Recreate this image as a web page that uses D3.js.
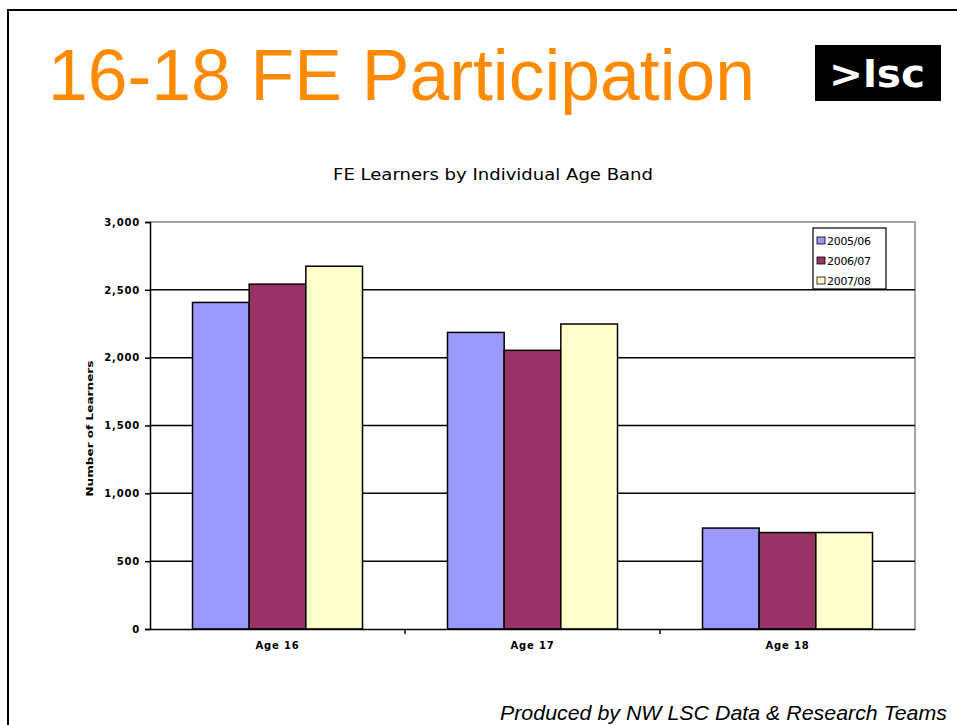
<!DOCTYPE html>
<html>
<head>
<meta charset="utf-8">
<script src="https://cdn.jsdelivr.net/npm/d3@7"></script>
<style>
  body { margin: 0; background: #fff; }
  svg { display: block; }
</style>
</head>
<body>
<div id="container"></div>
<script>
const WIDTH = 957,
  HEIGHT = 725;

// data
const categories = ["Age 16", "Age 17", "Age 18"];
const seriesNames = ["2005/06", "2006/07", "2007/08"];
const values2005 = [2407, 2186, 744];
const values2006 = [2542, 2054, 711];
const values2007 = [2674, 2248, 711];
const yTicks = [0, 500, 1000, 1500, 2000, 2500, 3000];

const seriesValues = [values2005, values2006, values2007];
const data = categories.map((c, i) => ({
  category: c,
  values: seriesNames.map((s, j) => ({ series: s, value: seriesValues[j][i] }))
}));

const plot = { left: 150, right: 915, top: 222, bottom: 629 };

const svg = d3.select("#container")
  .append("svg")
  .attr("width", WIDTH)
  .attr("height", HEIGHT)

// slide frame
svg.append("rect")
  .attr("x", 8).attr("y", 10)
  .attr("width", WIDTH + 10).attr("height", HEIGHT + 10)
  .attr("fill", "none")
  .attr("stroke", "#000")
  .attr("stroke-width", 2)

// heading
svg.append("text")
  .attr("x", 48).attr("y", 100)
  .attr("font-family", "Liberation Sans, Arial, sans-serif")
  .attr("font-size", 72)
  .attr("fill", "#ff8a00")
  .attr("textLength", 707)
  .attr("lengthAdjust", "spacingAndGlyphs")
  .text("16-18 FE Participation")

// logo
svg.append("rect")
  .attr("x", 815).attr("y", 45)
  .attr("width", 126).attr("height", 56)
  .attr("fill", "#000")
svg.append("text")
  .attr("x", 877).attr("y", 87)
  .attr("text-anchor", "middle")
  .attr("font-family", "DejaVu Sans, sans-serif")
  .attr("font-weight", "bold")
  .attr("font-size", 38)
  .attr("fill", "#fff")
  .attr("textLength", 96)
  .attr("lengthAdjust", "spacingAndGlyphs")
  .text(">lsc")

// chart title
svg.append("text")
  .attr("x", 493).attr("y", 180)
  .attr("text-anchor", "middle")
  .attr("font-family", "DejaVu Sans, sans-serif")
  .attr("font-size", 15)
  .attr("textLength", 320)
  .attr("lengthAdjust", "spacingAndGlyphs")
  .text("FE Learners by Individual Age Band")

// Scales
const x0 = d3.scaleBand()
  .domain(categories)
  .range([plot.left, plot.right])
  .padding(0)

const x1 = d3.scaleBand()
  .domain(seriesNames)
  .range([0, x0.bandwidth()])
  .paddingInner(0)
  .paddingOuter(0.75)

const yScale = d3.scaleLinear()
  .domain([0, 3000])
  .range([plot.bottom, plot.top])

const colorScale = d3.scaleOrdinal()
  .domain(seriesNames)
  .range(["#9999ff", "#993366", "#ffffcc"])

// plot frame (grey top and right)
svg.append("path")
  .attr("d", `M${plot.left},${plot.top}H${plot.right}V${plot.bottom}`)
  .attr("fill", "none")
  .attr("stroke", "#888")
  .attr("stroke-width", 1.5)

// gridlines
svg.append("g")
  .selectAll("line")
  .data(yTicks.filter(t => t > 0 && t < 3000))
  .join("line")
  .attr("x1", plot.left).attr("x2", plot.right)
  .attr("y1", d => yScale(d)).attr("y2", d => yScale(d))
  .attr("stroke", "#000")
  .attr("stroke-width", 1.5)

// bars
svg.append("g")
  .selectAll("g")
  .data(data)
  .join("g")
  .attr("transform", d => `translate(${x0(d.category)},0)`)
  .selectAll("rect")
  .data(d => d.values)
  .join("rect")
  .attr("x", d => x1(d.series))
  .attr("y", d => yScale(d.value))
  .attr("width", x1.bandwidth())
  .attr("height", d => yScale(0) - yScale(d.value))
  .attr("fill", d => colorScale(d.series))
  .attr("stroke", "#000")
  .attr("stroke-width", 1.5)

// y axis
const yAxis = svg.append("g")
  .attr("transform", `translate(${plot.left},0)`)
  .call(d3.axisLeft(yScale).tickValues(yTicks).tickSize(5).tickPadding(5)
    .tickFormat(d3.format(",")))
yAxis.select(".domain").attr("stroke", "#000").attr("stroke-width", 1.5)
yAxis.selectAll(".tick line").attr("stroke", "#000").attr("stroke-width", 1.5)
yAxis.selectAll(".tick text")
  .attr("font-family", "DejaVu Sans, sans-serif")
  .attr("font-weight", "bold")
  .attr("font-size", 10)
  .attr("letter-spacing", 0.8)
  .attr("fill", "#000")

// x axis
const xAxis = svg.append("g")
  .attr("transform", `translate(0,${plot.bottom})`)
  .call(d3.axisBottom(x0).tickSize(0).tickPadding(13))
xAxis.select(".domain").attr("stroke", "#000").attr("stroke-width", 1.5)
xAxis.selectAll(".tick text")
  .attr("font-family", "DejaVu Sans, sans-serif")
  .attr("font-weight", "bold")
  .attr("font-size", 10)
  .attr("letter-spacing", 0.8)
  .attr("fill", "#000")

// category separator ticks
xAxis.append("g")
  .selectAll("line")
  .data(categories.slice(1))
  .join("line")
  .attr("x1", d => x0(d)).attr("x2", d => x0(d))
  .attr("y1", 0).attr("y2", 5)
  .attr("stroke", "#000")
  .attr("stroke-width", 1.5)

// y axis title
svg.append("text")
  .attr("transform", `translate(93,${(plot.top + plot.bottom) / 2 + 3}) rotate(-90)`)
  .attr("text-anchor", "middle")
  .attr("font-family", "DejaVu Sans, sans-serif")
  .attr("font-weight", "bold")
  .attr("font-size", 8)
  .attr("textLength", 136)
  .attr("lengthAdjust", "spacingAndGlyphs")
  .text("Number of Learners")

// legend
const legend = svg.append("g").attr("transform", "translate(813,228)")
legend.append("rect")
  .attr("width", 73).attr("height", 61)
  .attr("fill", "#fff")
  .attr("stroke", "#000")
  .attr("stroke-width", 1.2)
const item = legend.selectAll(".item")
  .data(seriesNames)
  .join("g")
  .attr("class", "item")
  .attr("transform", (d, i) => `translate(4,${13 + i * 20})`)
item.append("rect")
  .attr("x", 0).attr("y", -4)
  .attr("width", 8).attr("height", 7)
  .attr("fill", d => colorScale(d))
  .attr("stroke", "#000")
  .attr("stroke-width", 0.8)
item.append("text")
  .attr("x", 10).attr("y", 4)
  .attr("font-family", "DejaVu Sans, sans-serif")
  .attr("font-size", 11)
  .attr("letter-spacing", -0.3)
  .text(d => d)

// footer
svg.append("text")
  .attr("x", 947).attr("y", 720)
  .attr("text-anchor", "end")
  .attr("font-family", "Liberation Sans, Arial, sans-serif")
  .attr("font-style", "italic")
  .attr("font-size", 20)
  .attr("textLength", 447)
  .attr("lengthAdjust", "spacingAndGlyphs")
  .text("Produced by NW LSC Data & Research Teams")
</script>
</body>
</html>
